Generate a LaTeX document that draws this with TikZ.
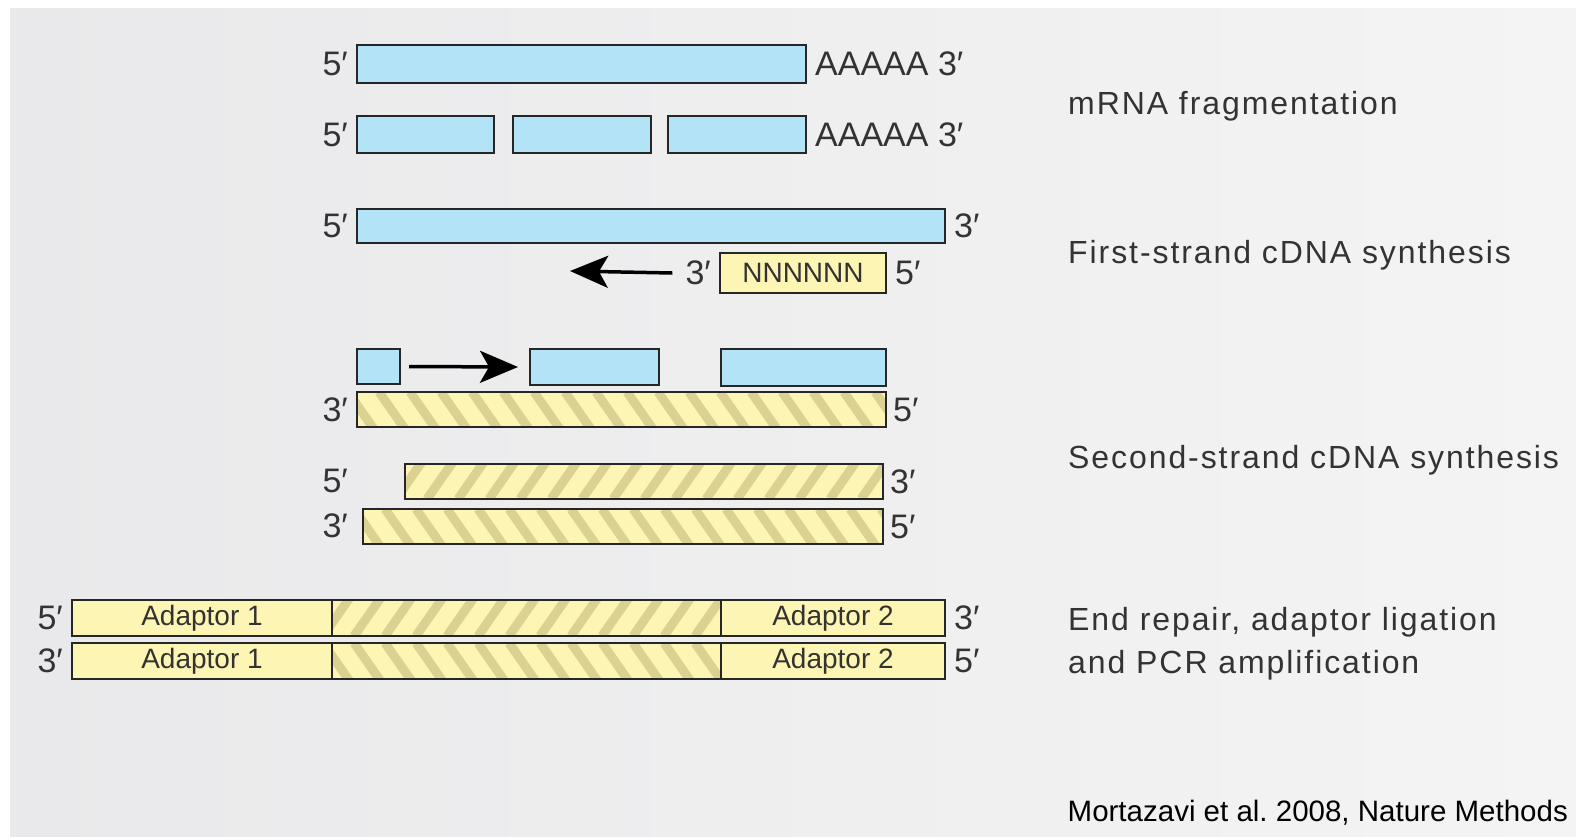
\documentclass[tikz,border=0pt]{standalone}
\usepackage{fontspec}
\setmainfont{Liberation Sans}
\newfontfamily\stepfont[LetterSpace=6]{Liberation Sans}
\usetikzlibrary{arrows.meta}
\definecolor{rnablue}{HTML}{B3E3F6}
\definecolor{dnayel}{HTML}{FDF5B3}
\definecolor{hatchcol}{HTML}{DBD193}
\definecolor{edgecol}{HTML}{262626}
\definecolor{txtcol}{HTML}{333333}
\definecolor{bgL}{HTML}{E9E9EB}
\definecolor{bgR}{HTML}{F4F4F4}
\tikzset{
  strand/.style={draw=edgecol, line width=2pt, inner sep=0pt, outer sep=0pt, anchor=north west},
  rna/.style={strand, fill=rnablue},
  dna/.style={strand, fill=dnayel},
  fwdhatch/.style={dna, path picture={
      \foreach \i in {0,...,34}{\draw[hatchcol, line width=9pt]
        ([xshift=\i*31pt-40pt]path picture bounding box.south west) -- ++(28pt,40pt);}}},
  bwdhatch/.style={dna, path picture={
      \foreach \i in {0,...,34}{\draw[hatchcol, line width=9pt]
        ([xshift=\i*31pt-40pt]path picture bounding box.north west) -- ++(28pt,-40pt);}}},
  endlab/.style={text=txtcol, font=\fontsize{34}{36}\selectfont, inner sep=0pt},
  leftlab/.style={endlab, anchor=east, xshift=-9pt},
  rightlab/.style={endlab, anchor=west, xshift=9pt},
  steplab/.style={text=txtcol, font=\stepfont\fontsize{32}{43}\selectfont, anchor=base west, inner sep=0pt},
  inlab/.style={text=txtcol, font=\fontsize{28}{30}\selectfont, inner sep=0pt},
  arr/.style={draw=black, line width=3.5pt, -{Stealth[length=38pt,width=32pt,inset=9pt]}},
}
\begin{document}
\begin{tikzpicture}[x=1pt,y=-1pt]
\useasboundingbox (0,0) rectangle (1576,836);
\fill[white] (0,0) rectangle (1576,836);
\shade[left color=bgL, right color=bgR] (10,8) rectangle (1576,836);

% row 1: mRNA
\node[rna, minimum width=449pt, minimum height=38pt] (r1) at (357,45) {};
\node[leftlab] (r1l) at (r1.west) {5′};
\node[rightlab] (r1r) at (r1.east) {AAAAA 3′};

% row 2: fragments
\node[rna, minimum width=137pt, minimum height=37pt] (r2a) at (357,116) {};
\node[rna, minimum width=138pt, minimum height=37pt] (r2b) at (513,116) {};
\node[rna, minimum width=138pt, minimum height=37pt] (r2c) at (668,116) {};
\node[leftlab] (r2l) at (r2a.west) {5′};
\node[rightlab] (r2r) at (r2c.east) {AAAAA 3′};

% row 3: template
\node[rna, minimum width=588pt, minimum height=34pt] (r3) at (357,209) {};
\node[leftlab] (r3l) at (r3.west) {5′};
\node[rightlab] (r3r) at (r3.east) {3′};

% row 4: random primer
\node[dna, minimum width=166pt, minimum height=40pt] (n4) at (720,253) {};
\node[inlab] (n4t) at (n4.center) {NNNNNN};
\node[leftlab] (p4l) at (n4.west) {3′};
\node[rightlab] (p4r) at (n4.east) {5′};
\coordinate (a1end) at (570,271);
\draw[arr] ([xshift=-13pt]p4l.west) -- (a1end);

% row 5: RNA pieces
\node[rna, minimum width=43pt, minimum height=35pt] (r5a) at (357,349) {};
\node[rna, minimum width=129pt, minimum height=36pt] (r5b) at (530,349) {};
\node[rna, minimum width=165pt, minimum height=37pt] (r5c) at (721,349) {};
\draw[arr] ([xshift=9pt]r5a.east) -- ([xshift=-12pt]r5b.west);

% row 6: first strand
\node[bwdhatch, minimum width=529pt, minimum height=35pt] (h6) at (357,392) {};
\node[leftlab] (h6l) at (h6.west) {3′};
\node[rightlab, xshift=-2pt] (h6r) at (h6.east) {5′};

% row 7/8: double-stranded cDNA
\node[fwdhatch, minimum width=478pt, minimum height=35pt] (h7) at (405,464) {};
\node[leftlab] (h7l) at (357,481) {5′};
\node[rightlab, xshift=-2pt] (h7r) at (h7.east) {3′};
\node[bwdhatch, minimum width=520pt, minimum height=35pt] (h8) at (363,509) {};
\node[leftlab] (h8l) at (357,526) {3′};
\node[rightlab, xshift=-2pt] (h8r) at (h8.east) {5′};

% row 9/10: adaptor-ligated
\node[dna, minimum width=260pt, minimum height=36pt] (a9) at (72,600) {};
\node[fwdhatch, minimum width=389pt, minimum height=36pt] (m9) at (332,600) {};
\node[dna, minimum width=224pt, minimum height=36pt] (b9) at (721,600) {};
\node[inlab] at (a9.center) {Adaptor 1};
\node[inlab] at (b9.center) {Adaptor 2};
\node[leftlab] (a9l) at (a9.west) {5′};
\node[rightlab] (b9r) at (b9.east) {3′};

\node[dna, minimum width=260pt, minimum height=36pt] (a10) at (72,643) {};
\node[bwdhatch, minimum width=389pt, minimum height=36pt] (m10) at (332,643) {};
\node[dna, minimum width=224pt, minimum height=36pt] (b10) at (721,643) {};
\node[inlab] at (a10.center) {Adaptor 1};
\node[inlab] at (b10.center) {Adaptor 2};
\node[leftlab] (a10l) at (a10.west) {3′};
\node[rightlab] (b10r) at (b10.east) {5′};

% step labels
\node[steplab] (s1) at (1068,114) {mRNA fragmentation};
\node[steplab] (s2) at (1068,263) {First-strand cDNA synthesis};
\node[steplab] (s3) at (1068,468) {Second-strand cDNA synthesis};
\node[steplab] (s4) at (1068,630) {End repair, adaptor ligation};
\node[steplab] (s5) at (1068,673) {and PCR amplification};
\node[text=black, font=\fontsize{29.5}{32}\selectfont, anchor=base east, inner sep=0pt] (cite) at (1568,821) {Mortazavi et al.\ 2008, Nature Methods};
\end{tikzpicture}
\end{document}
